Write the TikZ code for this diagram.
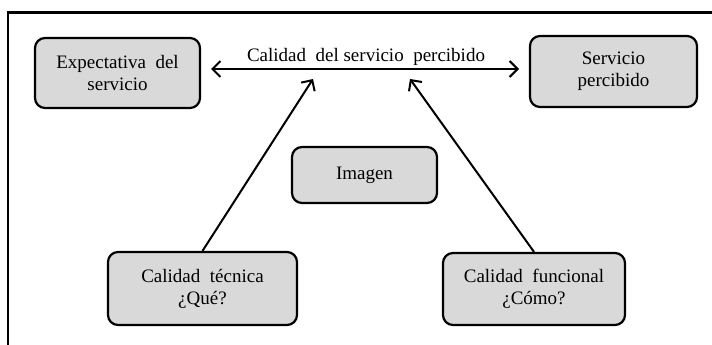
\documentclass[tikz,border=0pt]{standalone}
\usepackage{fontspec}
\setmainfont{Liberation Serif}
\usetikzlibrary{arrows.meta}
\definecolor{boxfill}{RGB}{217,217,217}
\begin{document}
\begin{tikzpicture}[x=1pt,y=-1pt,
  gbox/.style={draw=black, line width=2.2pt, rounded corners=10pt, fill=boxfill,
    align=center, font=\fontsize{19}{22}\selectfont, inner sep=0pt},
  tip/.style={Straight Barb[length=8pt,width=16pt,line width=2pt]},
  conn/.style={line width=2pt, -{Straight Barb[length=8pt,width=16pt,line width=2pt]}},
  lbl/.style={font=\fontsize{19}{22}\selectfont, inner sep=0pt}]
\useasboundingbox (0,0) rectangle (712,345);
\fill[white] (0,0) rectangle (712,345);
% frame
\draw[line width=2.2pt] (8,345) -- (8,12.5) -- (712,12.5);
% boxes
\node[gbox, minimum width=165pt, minimum height=70pt] (exp) at (117.5,73) {Expectativa\ \ del\\servicio};
\node[gbox, minimum width=167pt, minimum height=71pt] (serv) at (613.5,71.5) {Servicio\\percibido};
\node[gbox, minimum width=145pt, minimum height=56pt] (img) at (364.5,175) {Imagen};
\node[gbox, minimum width=189pt, minimum height=73pt] (tec) at (202.5,288.5) {Calidad\ \ técnica\\¿Qué?};
\node[gbox, minimum width=182pt, minimum height=72pt] (fun) at (534,289) {Calidad\ \ funcional\\¿Cómo?};
% horizontal arrow
\coordinate (aL) at (211,69);
\coordinate (aR) at (519,69);
\draw[line width=2pt, {Straight Barb[length=8pt,width=16pt,line width=2pt]}-{Straight Barb[length=8pt,width=16pt,line width=2pt]}] (aL) -- (aR);
\node[lbl] (cal) at (366,57) {Calidad\ \ del\ servicio\ \ percibido};
% diagonal arrows
\coordinate (tL) at (313,79);
\coordinate (tR) at (410,79);
\draw[conn] (tec.north) -- (tL);
\draw[conn] (fun.north) -- (tR);
\end{tikzpicture}
\end{document}
